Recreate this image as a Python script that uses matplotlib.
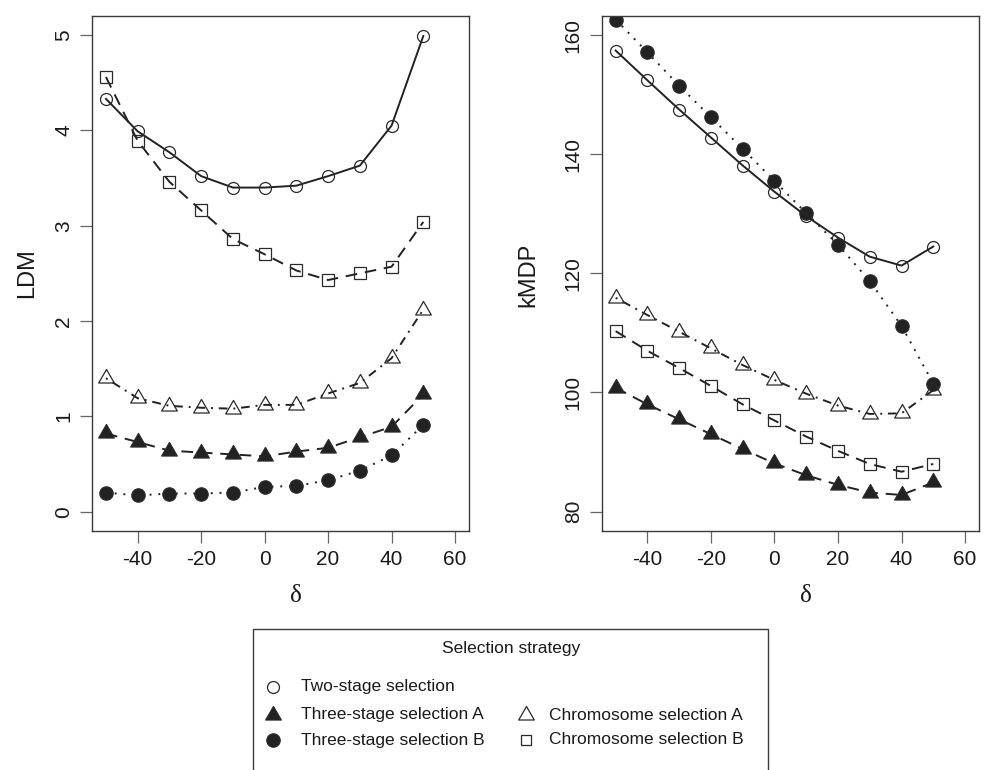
import matplotlib
matplotlib.use("Agg")
import matplotlib.pyplot as plt
from matplotlib.lines import Line2D
from matplotlib.patches import Rectangle
from matplotlib.path import Path

plt.rcParams["font.family"] = ["Liberation Sans", "DejaVu Sans"]

# data
delta = [-50, -40, -30, -20, -10, 0, 10, 20, 30, 40, 50]

ldm_two = [4.33, 3.99, 3.77, 3.52, 3.40, 3.40, 3.42, 3.52, 3.63, 4.05, 4.99]
ldm_chrom_b = [4.56, 3.89, 3.46, 3.16, 2.86, 2.70, 2.53, 2.43, 2.50, 2.57, 3.04]
ldm_chrom_a = [1.40, 1.19, 1.11, 1.09, 1.08, 1.12, 1.12, 1.24, 1.35, 1.61, 2.12]
ldm_three_a = [0.82, 0.73, 0.64, 0.62, 0.60, 0.58, 0.63, 0.67, 0.78, 0.89, 1.23]
ldm_three_b = [0.20, 0.17, 0.19, 0.19, 0.20, 0.26, 0.27, 0.33, 0.43, 0.59, 0.91]

kmdp_two = [157.4, 152.4, 147.5, 142.8, 138.1, 133.7, 129.6, 126.0, 122.8, 121.3, 124.5]
kmdp_three_b = [162.6, 157.1, 151.5, 146.2, 140.9, 135.5, 130.1, 124.8, 118.7, 111.2, 101.5]
kmdp_chrom_a = [115.9, 113.0, 110.2, 107.4, 104.6, 102.1, 99.8, 97.8, 96.4, 96.5, 100.4]
kmdp_chrom_b = [110.3, 107.0, 104.1, 101.1, 98.0, 95.3, 92.6, 90.2, 88.0, 86.7, 88.0]
kmdp_three_a = [100.8, 98.0, 95.5, 93.0, 90.5, 88.1, 86.1, 84.5, 83.2, 82.8, 84.9]

x_ticks = [-40, -20, 0, 20, 40, 60]
ldm_ticks = [0, 1, 2, 3, 4, 5]
kmdp_ticks = [80, 100, 120, 140, 160]

# R-like equilateral triangle, centred on its centroid
tri = Path([(0, 1), (-0.866, -0.5), (0.866, -0.5), (0, 1)],
           [Path.MOVETO, Path.LINETO, Path.LINETO, Path.CLOSEPOLY])

LINE = "#222222"
EDGE = "#2a2a2a"

styles = {
    "two": dict(ls="-", marker="o", ms=8.6, mfc="none"),
    "three_a": dict(ls=(0, (6, 4)), marker=tri, ms=13.0, mfc=LINE),
    "three_b": dict(ls=(0, (1, 3.5)), marker="o", ms=9.6, mfc=LINE),
    "chrom_a": dict(ls=(0, (1, 3, 4.5, 3)), marker=tri, ms=13.0, mfc="none"),
    "chrom_b": dict(ls=(0, (6, 4)), marker="s", ms=8.3, mfc="none"),
}

W, H = 991, 770
fig = plt.figure(figsize=(W / 100, H / 100), dpi=100)


def fx(px):
    return px / W


def fy(py):
    return 1 - py / H


ax1 = fig.add_axes([fx(92), fy(530.7), fx(469) - fx(92), fy(16) - fy(530.7)])
ax2 = fig.add_axes([fx(601.7), fy(530.7), fx(979) - fx(601.7), fy(16) - fy(530.7)])


def draw(ax, series):
    for key, vals in series:
        st = styles[key]
        ax.plot(delta, vals, color=LINE, lw=1.4, ls=st["ls"], marker=st["marker"],
                ms=st["ms"], mfc=st["mfc"], mec=EDGE, mew=0.9)


draw(ax1, [("two", ldm_two), ("chrom_b", ldm_chrom_b), ("chrom_a", ldm_chrom_a),
           ("three_a", ldm_three_a), ("three_b", ldm_three_b)])
draw(ax2, [("two", kmdp_two), ("three_b", kmdp_three_b), ("chrom_a", kmdp_chrom_a),
           ("chrom_b", kmdp_chrom_b), ("three_a", kmdp_three_a)])

for ax, ylim, yt in [(ax1, (-0.2, 5.2), ldm_ticks), (ax2, (76.8, 163.2), kmdp_ticks)]:
    ax.set_xlim(-54.4, 64.4)
    ax.set_ylim(*ylim)
    ax.set_xticks(x_ticks)
    ax.set_yticks(yt)
    ax.set_xticklabels([str(v) for v in x_ticks])
    ax.set_yticklabels([str(v) for v in yt])
    for sp in ax.spines.values():
        sp.set_color("#3a3a3a")
        sp.set_linewidth(1.0)
    ax.tick_params(axis="both", length=8.6, width=0.9, color="#666666",
                   labelsize=15, labelcolor="#1a1a1a")
    ax.tick_params(axis="x", pad=5)
    ax.tick_params(axis="y", pad=5, labelrotation=90)
    plt.setp(ax.get_yticklabels(), va="center")

# axis labels
fig.text(fx(27), fy(273), "LDM", rotation=90, ha="center", va="center", fontsize=17, color="#1a1a1a")
fig.text(fx(528), fy(275), "kMDP", rotation=90, ha="center", va="center", fontsize=17, color="#1a1a1a")
fig.text(fx(296), fy(596), "δ", ha="center", va="center", fontsize=18,
         family=["Liberation Serif", "DejaVu Serif"], color="#1a1a1a")
fig.text(fx(806), fy(596), "δ", ha="center", va="center", fontsize=18,
         family=["Liberation Serif", "DejaVu Serif"], color="#1a1a1a")

# legend box
fig.add_artist(Rectangle((fx(253), fy(780)), fx(768) - fx(253), fy(629) - fy(780),
                         transform=fig.transFigure, fill=False, ec="#3a3a3a", lw=1.0))
fig.text(fx(511), fy(648), "Selection strategy", ha="center", va="center", fontsize=12.5,
         color="#1a1a1a")

legend_rows = [
    ("two", "Two-stage selection", 272.5, 301, 687),
    ("three_a", "Three-stage selection A", 272.5, 301, 715),
    ("three_b", "Three-stage selection B", 272.5, 301, 740),
    ("chrom_a", "Chromosome selection A", 526, 549, 715),
    ("chrom_b", "Chromosome selection B", 526, 549, 740),
]
for key, label, mx, tx, ty in legend_rows:
    st = styles[key]
    ms = st["ms"] * (0.85 if key == "chrom_b" else 1.0)
    fig.add_artist(Line2D([fx(mx)], [fy(ty)], transform=fig.transFigure, ls="none",
                          marker=st["marker"], ms=ms, mfc=st["mfc"], mec=EDGE, mew=0.9))
    fig.text(fx(tx), fy(ty), label, ha="left", va="center", fontsize=12.5, color="#1a1a1a")

fig.savefig("out.png", dpi=100)
plt.close(fig)
